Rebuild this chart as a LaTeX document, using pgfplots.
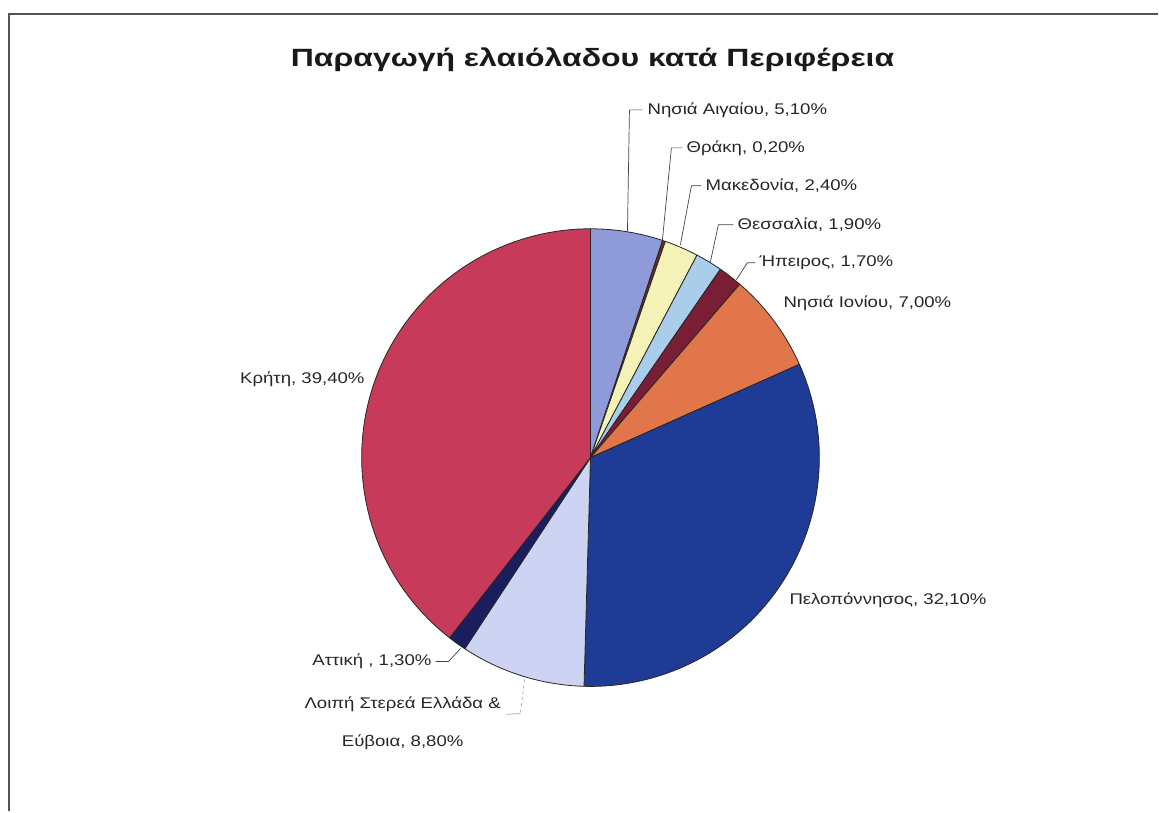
\documentclass[border=0pt]{standalone}
\usepackage{pgfplots}
\pgfplotsset{compat=1.18}
\usepackage{pgfplotstable}
\usepackage{fontspec}
\setmainfont{Liberation Sans}[FakeStretch=1.2]
\newfontfamily\titlefont{Liberation Sans}[FakeStretch=1.28]
\definecolor{cAeg}{HTML}{8F9AD8}
\definecolor{cThr}{HTML}{6B2A2A}
\definecolor{cMac}{HTML}{F5F2B8}
\definecolor{cThe}{HTML}{A9CDEB}
\definecolor{cEpi}{HTML}{7A1E35}
\definecolor{cIon}{HTML}{E0764A}
\definecolor{cPel}{HTML}{1E3C96}
\definecolor{cSte}{HTML}{CDD3F2}
\definecolor{cAtt}{HTML}{1B1E5E}
\definecolor{cCre}{HTML}{C73A5A}
\definecolor{frame}{HTML}{505358}
\definecolor{lead}{HTML}{444444}
\pgfplotstableread[col sep=comma]{
name,pct,col
Aegean,5.1,cAeg
Thrace,0.2,cThr
Macedonia,2.4,cMac
Thessaly,1.9,cThe
Epirus,1.7,cEpi
Ionian,7.0,cIon
Peloponnese,32.1,cPel
Sterea,8.8,cSte
Attica,1.3,cAtt
Crete,39.4,cCre
}\piedata
% precompute slice angles from the table
\def\cum{0}
\pgfplotsforeachungrouped \i in {0,...,9}{%
  \pgfplotstablegetelem{\i}{pct}\of\piedata \let\p\pgfplotsretval
  \pgfplotstablegetelem{\i}{col}\of\piedata
  \expandafter\xdef\csname sc\i\endcsname{\pgfplotsretval}%
  \pgfmathsetmacro\a{90-\cum/99.9*360}%
  \pgfmathsetmacro\cum{\cum+\p}%
  \pgfmathsetmacro\b{90-\cum/99.9*360}%
  \expandafter\xdef\csname sa\i\endcsname{\a}%
  \expandafter\xdef\csname sb\i\endcsname{\b}%
}
\tikzset{lbl/.style={font=\fontsize{15.5}{18}\selectfont, text=black!85, inner sep=0pt}}
\begin{document}
\begin{tikzpicture}
\begin{axis}[x=1pt,y=1pt,xmin=0,xmax=1159,ymin=0,ymax=812,hide axis,clip=false]
\addplot[draw=none] coordinates {(0,0) (1159,812)};
\pgfplotsforeachungrouped \i in {0,...,9}{%
  \edef\temp{\noexpand\filldraw[fill=\csname sc\i\endcsname,draw=black!85,line width=0.8pt,line join=round] (axis cs:591,354) -- ++(\csname sa\i\endcsname:229pt) arc[start angle=\csname sa\i\endcsname,end angle=\csname sb\i\endcsname,radius=229pt] -- cycle;}%
  \temp
}
% frame
\draw[frame,line width=2pt] (axis cs:9,0) -- (axis cs:9,798) -- (axis cs:1159,798);
% title
\node[font=\titlefont\bfseries\fontsize{25}{30}\selectfont,text=black!90,inner sep=0pt] at (axis cs:593,752) {Παραγωγή ελαιόλαδου κατά Περιφέρεια};
% leaders
\draw[lead,line width=0.7pt] (axis cs:643,702) -- (axis cs:630,702) -- (axis cs:628,581);
\draw[lead,line width=0.7pt] (axis cs:683,664) -- (axis cs:672,664) -- (axis cs:663,572);
\draw[lead,line width=0.7pt] (axis cs:702,626) -- (axis cs:692,626) -- (axis cs:681,567);
\draw[lead,line width=0.7pt] (axis cs:734,587) -- (axis cs:719,587) -- (axis cs:711,550);
\draw[lead,line width=0.7pt] (axis cs:756,549) -- (axis cs:748,549) -- (axis cs:737,532);
\draw[lead,line width=0.7pt] (axis cs:436,150) -- (axis cs:449,150) -- (axis cs:461,163);
\draw[black!40,line width=0.6pt,dashed] (axis cs:525,132) -- (axis cs:521,99);
\draw[black!25,line width=1pt] (axis cs:521,98) -- (axis cs:507,97);
% labels
\node[lbl,anchor=west] at (axis cs:648,702) {Νησιά Αιγαίου, 5,10\%};
\node[lbl,anchor=west] at (axis cs:687,664) {Θράκη, 0,20\%};
\node[lbl,anchor=west] at (axis cs:706,626) {Μακεδονία, 2,40\%};
\node[lbl,anchor=west] at (axis cs:738,587) {Θεσσαλία, 1,90\%};
\node[lbl,anchor=west] at (axis cs:760,549) {Ήπειρος, 1,70\%};
\node[lbl,anchor=west] at (axis cs:784,508) {Νησιά Ιονίου, 7,00\%};
\node[lbl,anchor=west] at (axis cs:790,211) {Πελοπόννησος, 32,10\%};
\node[lbl,anchor=east] at (axis cs:365,432) {Κρήτη, 39,40\%};
\node[lbl,anchor=east] at (axis cs:432,150) {Αττική , 1,30\%};
\node[lbl,align=center,font=\fontsize{15.5}{38}\selectfont] at (axis cs:403,88) {Λοιπή Στερεά Ελλάδα \&\\Εύβοια, 8,80\%};
\end{axis}
\end{tikzpicture}
\end{document}
